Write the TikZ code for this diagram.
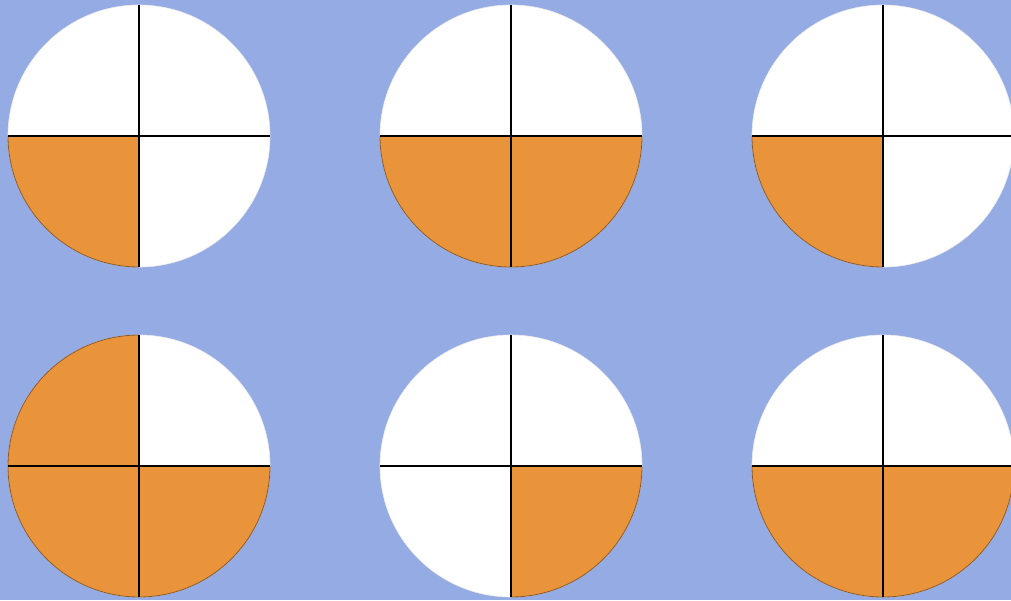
\documentclass[tikz,border=0pt]{standalone}
\definecolor{bg}{HTML}{95ABE3}
\definecolor{fr}{HTML}{E9933B}
\definecolor{frb}{HTML}{8A5A2A}
\tikzset{
  disc/.style={fill=white, draw=white!85!gray, line width=0.6pt},
  quarter/.style={fill=fr, draw=frb, line width=0.8pt},
  divider/.style={draw=black, line width=1.6pt}
}
\newcommand{\pie}[4]{% name, x, y, list of shaded quadrants (angles)
  \coordinate (#1) at (#2,#3);
  \fill[disc] (#1) circle (131);
  \foreach \a in {#4} {
    \filldraw[quarter] (#1) -- ++(\a:131) arc (\a:\a+90:131) -- cycle;
  }
  \coordinate (#1-l) at ($(#1)+(-131,0)$);
  \coordinate (#1-r) at ($(#1)+(131,0)$);
  \coordinate (#1-t) at ($(#1)+(0,131)$);
  \coordinate (#1-b) at ($(#1)+(0,-131)$);
  \draw[divider] (#1-l) -- (#1-r);
  \draw[divider] (#1-t) -- (#1-b);
}
\usetikzlibrary{calc}
\begin{document}
\begin{tikzpicture}[x=1pt,y=-1pt]
\fill[bg] (0,0) rectangle (1011,600);
\useasboundingbox (0,0) rectangle (1011,600);
% in y=-1pt coords, angle 90 points down; quadrants: BL = 90..180, BR = 0..90, TL = 180..270
\pie{c1}{139}{136}{90}
\pie{c2}{511}{136}{0,90}
\pie{c3}{883}{136}{90}
\pie{c4}{139}{466}{0,90,180}
\pie{c5}{511}{466}{0}
\pie{c6}{883}{466}{0,90}
\end{tikzpicture}
\end{document}
